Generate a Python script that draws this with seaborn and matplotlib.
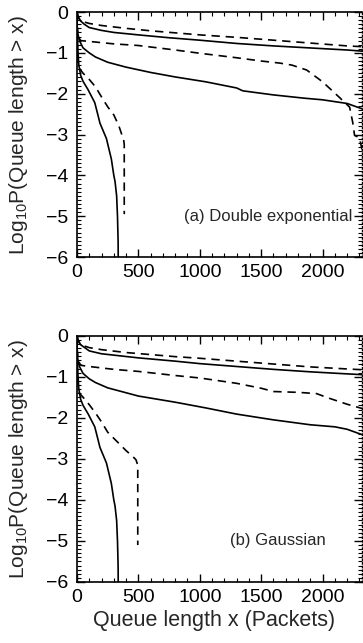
import numpy as np
import pandas as pd
import matplotlib
matplotlib.use("Agg")
import matplotlib.pyplot as plt
import seaborn as sns
from matplotlib.ticker import MultipleLocator

# ---------------- data ----------------
# Panel (a) Double exponential
a_A_x = [0, 10, 30, 60, 100, 200, 300, 500, 750, 1000, 1300, 1600, 1900, 2200, 2330]
a_A_y = [0, -0.12, -0.22, -0.30, -0.38, -0.45, -0.50, -0.56, -0.63, -0.69, -0.77, -0.83, -0.88, -0.93, -0.96]
a_B_x = [0, 10, 30, 100, 200, 400, 600, 800, 1000, 1300, 1600, 1900, 2200, 2330]
a_B_y = [0, -0.12, -0.22, -0.28, -0.33, -0.40, -0.46, -0.51, -0.56, -0.62, -0.69, -0.76, -0.83, -0.85]
a_C_x = [0, 10, 30, 100, 300, 500, 800, 1000, 1300, 1500, 1650, 1750, 1870, 2000, 2140, 2220, 2245, 2260, 2300, 2330]
a_C_y = [-0.3, -0.6, -0.70, -0.72, -0.78, -0.82, -0.93, -1.01, -1.12, -1.20, -1.25, -1.30, -1.42, -1.71, -2.10, -2.33, -2.70, -3.02, -3.08, -3.50]
a_D_x = [0, 5, 20, 50, 100, 150, 250, 400, 600, 800, 1050, 1300, 1350, 1600, 1850, 2000, 2200, 2330]
a_D_y = [-0.3, -0.5, -0.7, -0.88, -1.00, -1.10, -1.23, -1.35, -1.48, -1.59, -1.71, -1.86, -1.93, -2.03, -2.11, -2.15, -2.24, -2.38]
a_E_x = [0, 5, 20, 50, 100, 150, 200, 250, 300, 340, 365, 380, 385, 385]
a_E_y = [0, -1.2, -1.38, -1.50, -1.65, -1.83, -2.08, -2.32, -2.52, -2.78, -3.0, -3.12, -3.25, -4.95]
a_F_x = [0, 5, 15, 30, 50, 90, 145, 173, 187, 240, 280, 300, 310, 323, 330, 335, 336]
a_F_y = [0, -0.8, -1.3, -1.55, -1.70, -1.90, -2.22, -2.55, -2.72, -3.10, -3.60, -4.00, -4.15, -4.50, -5.00, -5.60, -6.00]

# Panel (b) Gaussian
b_A_x = [0, 10, 30, 100, 200, 500, 800, 1000, 1300, 1600, 1900, 2200, 2330]
b_A_y = [0, -0.12, -0.22, -0.37, -0.44, -0.54, -0.62, -0.68, -0.75, -0.82, -0.88, -0.93, -0.95]
b_B_x = [0, 10, 30, 100, 200, 400, 600, 800, 1000, 1300, 1600, 1900, 2200, 2330]
b_B_y = [0, -0.12, -0.22, -0.29, -0.34, -0.41, -0.46, -0.51, -0.55, -0.62, -0.69, -0.76, -0.81, -0.83]
b_C_x = [0, 10, 30, 100, 300, 500, 800, 1000, 1300, 1500, 1600, 1800, 1950, 2050, 2200, 2330]
b_C_y = [-0.3, -0.6, -0.72, -0.75, -0.82, -0.87, -0.97, -1.03, -1.16, -1.28, -1.36, -1.38, -1.41, -1.52, -1.67, -1.78]
b_D_x = [0, 5, 20, 50, 100, 150, 250, 500, 800, 1050, 1300, 1600, 1900, 2100, 2200, 2330]
b_D_y = [-0.3, -0.55, -0.75, -0.92, -1.05, -1.14, -1.27, -1.47, -1.62, -1.76, -1.91, -2.05, -2.17, -2.22, -2.28, -2.42]
b_E_x = [0, 5, 20, 50, 100, 150, 200, 250, 300, 350, 400, 450, 480, 495, 495]
b_E_y = [0, -1.25, -1.40, -1.50, -1.68, -1.88, -2.10, -2.35, -2.50, -2.65, -2.80, -2.93, -3.02, -3.15, -5.10]
b_F_x = [0, 5, 15, 30, 50, 90, 145, 173, 187, 240, 280, 300, 310, 323, 330, 335, 336]
b_F_y = [0, -0.8, -1.3, -1.55, -1.70, -1.90, -2.22, -2.55, -2.72, -3.10, -3.60, -4.00, -4.15, -4.50, -5.00, -5.60, -6.00]

x_ticks = [0, 500, 1000, 1500, 2000]
y_ticks = [-6, -5, -4, -3, -2, -1, 0]
panel_titles = ["(a) Double exponential", "(b) Gaussian"]

panels = [
    [(a_A_x, a_A_y, "-"), (a_B_x, a_B_y, "--"), (a_C_x, a_C_y, "--"),
     (a_D_x, a_D_y, "-"), (a_E_x, a_E_y, "--"), (a_F_x, a_F_y, "-")],
    [(b_A_x, b_A_y, "-"), (b_B_x, b_B_y, "--"), (b_C_x, b_C_y, "--"),
     (b_D_x, b_D_y, "-"), (b_E_x, b_E_y, "--"), (b_F_x, b_F_y, "-")],
]

# ---------------- figure ----------------
sns.set_theme(style="white")
plt.rcParams["font.family"] = ["Liberation Sans", "DejaVu Sans"]
plt.rcParams["mathtext.fontset"] = "custom"
plt.rcParams["mathtext.rm"] = "Liberation Sans"

fig = plt.figure(figsize=(3.63, 6.43), dpi=100)
fig.patch.set_facecolor("white")
ax_top = fig.add_axes([0.212, 0.6003, 0.785, 0.381])
ax_bot = fig.add_axes([0.212, 0.0949, 0.785, 0.383])

text_pos = [(870, -5.0), (1250, -5.0)]

for i, (ax, curves) in enumerate(zip([ax_top, ax_bot], panels)):
    for cx, cy, ls in curves:
        df = pd.DataFrame({"x": cx, "y": cy})
        sns.lineplot(data=df, x="x", y="y", ax=ax, sort=False, estimator=None,
                     color="black", linewidth=1.2, linestyle=ls)
    for ln in ax.get_lines():
        if ln.get_linestyle() == "--":
            ln.set_dashes((5, 3.5))
    ax.set_xlim(0, 2320)
    ax.set_ylim(-6, 0)
    ax.set_xticks(x_ticks)
    ax.set_yticks(y_ticks)
    ax.xaxis.set_minor_locator(MultipleLocator(100))
    ax.yaxis.set_minor_locator(MultipleLocator(0.1))
    ax.tick_params(which="both", direction="in", top=True, right=True,
                   bottom=True, left=True, colors="black", labelsize=14)
    ax.tick_params(which="major", length=6, width=1)
    ax.tick_params(which="minor", length=3, width=0.8)
    ax.tick_params(axis="x", pad=5)
    ax.tick_params(axis="y", pad=6)
    for s in ["left", "bottom", "top"]:
        ax.spines[s].set_color("black")
        ax.spines[s].set_linewidth(1.2)
    ax.spines["right"].set_color("black")
    ax.spines["right"].set_linewidth(1.0)
    ax.spines["right"].set_linestyle(":")
    ax.set_ylabel("Log$_{10}$P(Queue length > x)", fontsize=15)
    ax.yaxis.set_label_coords(-0.165, 0.5)
    ax.set_xlabel("")
    tx, ty = text_pos[i]
    ax.text(tx, ty, panel_titles[i], fontsize=12, ha="left", va="center")

ax_bot.set_xlabel("Queue length x (Packets)", fontsize=15.5)
ax_bot.xaxis.set_label_coords(0.48, -0.115)

fig.savefig("out.png", dpi=100, facecolor="white")
